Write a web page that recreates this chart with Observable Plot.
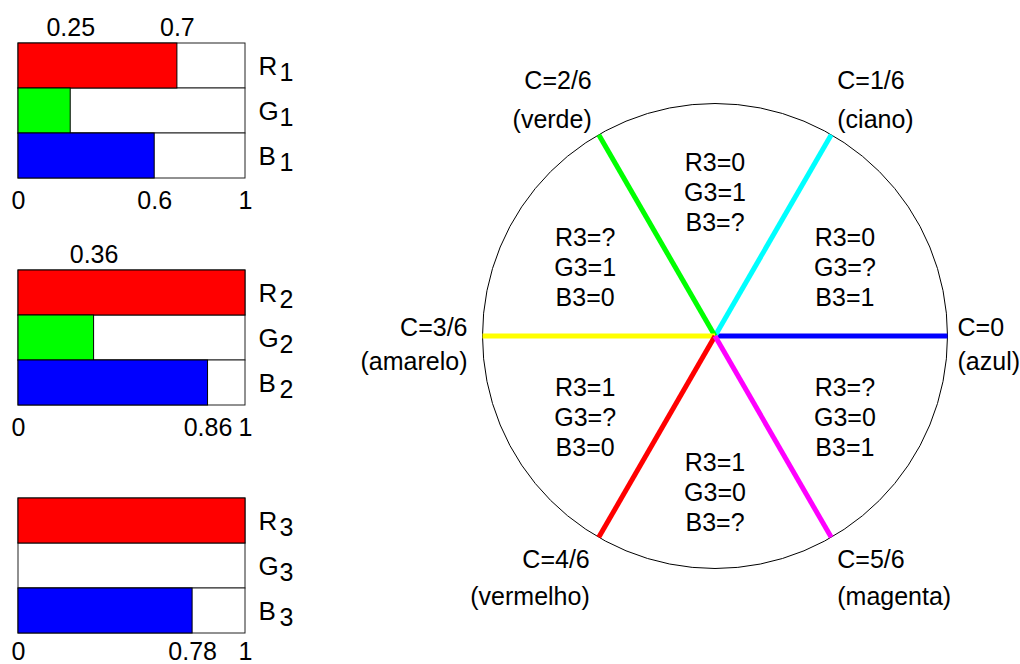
<!DOCTYPE html>
<html>
<head>
<meta charset="utf-8">
<script src="https://cdn.jsdelivr.net/npm/d3@7"></script>
<script src="https://cdn.jsdelivr.net/npm/@observablehq/plot@0.6"></script>
<style>
  body { margin: 0; background: #fff; }
  #chart { position: relative; width: 1020px; height: 664px; overflow: hidden; background: #fff; }
  #chart svg { position: absolute; overflow: visible; }
</style>
</head>
<body>
<div id="chart"></div>
<script>
// ---------- data ----------
const channels = ["R", "G", "B"];
// bar lengths as drawn in the picture
const values1 = [0.70, 0.23, 0.60];
const values2 = [1, 0.333, 0.835];
const values3 = [1, 0, 0.767];
// tick labels: [channel whose bar end carries the label, label text]
const topTicks1 = [["G", "0.25"], ["R", "0.7"]];
const topTicks2 = [["G", "0.36"]];
const topTicks3 = [];
const bottomTicks1 = [["0", "0"], ["B", "0.6"], ["1", "1"]];
const bottomTicks2 = [["0", "0"], ["B", "0.86"], ["1", "1"]];
const bottomTicks3 = [["0", "0"], ["B", "0.78"], ["1", "1"]];

const hueStops = [0, 1/6, 2/6, 3/6, 4/6, 5/6];
const hueLabels = ["C=0", "C=1/6", "C=2/6", "C=3/6", "C=4/6", "C=5/6"];
const hueNames = ["(azul)", "(ciano)", "(verde)", "(amarelo)", "(vermelho)", "(magenta)"];
// sectors between consecutive hue stops (centred at 1/12, 3/12, ...)
const sectorR3 = ["0", "0", "?", "1", "1", "?"];
const sectorG3 = ["?", "1", "1", "?", "0", "0"];
const sectorB3 = ["1", "?", "0", "0", "?", "1"];

// ---------- styles ----------
const FONT = '"Liberation Sans", Arial, Helvetica, sans-serif';
const FS = 25;
const channelColor = {R: "#ff0000", G: "#00ff00", B: "#0000ff"};
const hueColor = ["#0000ff", "#00ffff", "#00ff00", "#ffff00", "#ff0000", "#ff00ff"];

const chart = document.getElementById("chart");

function panel(index, values, topTicks, bottomTicks, top, bottomDy) {
  const rows = channels.map((c, i) => ({ch: c, v: values[i]}));
  const pos = k => k === "0" ? 0 : k === "1" ? 1 : values[channels.indexOf(k)];
  const svg = Plot.plot({
    width: 300, height: 227,
    marginLeft: 18, marginRight: 55, marginTop: 42, marginBottom: 49,
    x: {domain: [0, 1], axis: null},
    y: {type: "band", domain: channels, padding: 0, axis: null},
    style: {background: "transparent", fontFamily: FONT, overflow: "visible"},
    marks: [
      Plot.barX(rows, {x1: 0, x2: 1, y: "ch", fill: "white", stroke: "#222", strokeWidth: 1}),
      Plot.barX(rows.filter(d => d.v > 0), {x1: 0, x2: "v", y: "ch", fill: d => channelColor[d.ch], stroke: "black", strokeWidth: 1}),
      Plot.text(rows, {x: 1, y: "ch", text: "ch", textAnchor: "start", dx: 13, dy: 1, fontSize: FS + 1}),
      Plot.text(rows, {x: 1, y: "ch", text: () => String(index), textAnchor: "start", dx: 34, dy: 7, fontSize: FS}),
      Plot.text(topTicks, {x: d => pos(d[0]), text: d => d[1], frameAnchor: "top", lineAnchor: "middle", dy: -15, fontSize: FS}),
      Plot.text(bottomTicks, {x: d => pos(d[0]), text: d => d[1], frameAnchor: "bottom", lineAnchor: "middle", dy: bottomDy, fontSize: FS})
    ]
  });
  svg.style.left = "0px";
  svg.style.top = top + "px";
  chart.appendChild(svg);
}

panel(1, values1, topTicks1, bottomTicks1, 0, 22);
panel(2, values2, topTicks2, bottomTicks2, 227, 22);
panel(3, values3, topTicks3, bottomTicks3, 455, 18);

// ---------- hue circle ----------
const W = 680, H = 664, ML = 142, MR = 73, MT = 103, MB = 96;
const radiusPx = (W - ML - MR) / 2;
const spokes = hueStops.map((c, i) => ({
  c, label: hueLabels[i], name: hueNames[i], color: hueColor[i],
  cx: Math.cos(2 * Math.PI * c), cy: Math.sin(2 * Math.PI * c)
}));
const sectors = hueStops.map((c, i) => {
  const a = 2 * Math.PI * (c + 1/12);
  return {a, text: `R3=${sectorR3[i]}\nG3=${sectorG3[i]}\nB3=${sectorB3[i]}`};
});

function offsets(d) {
  const right = d.cx > 0;
  if (Math.abs(d.cy) < 0.01) return {anchor: right ? "start" : "end", dx: right ? 10 : -15, dy1: -8, dy2: 26};
  if (d.cy > 0) return {anchor: right ? "start" : "end", dx: right ? 6 : -7, dy1: -54, dy2: -15};
  return {anchor: right ? "start" : "end", dx: right ? 6 : -9, dy1: 23, dy2: 60};
}

const labelMarks = spokes.flatMap(d => {
  const o = offsets(d);
  return [
    Plot.text([d], {x: "cx", y: "cy", text: "label", textAnchor: o.anchor, dx: o.dx, dy: o.dy1, fontSize: FS}),
    Plot.text([d], {x: "cx", y: "cy", text: "name", textAnchor: o.anchor, dx: o.dx, dy: o.dy2, fontSize: FS})
  ];
});

const circle = Plot.plot({
  width: W, height: H,
  marginLeft: ML, marginRight: MR, marginTop: MT, marginBottom: MB,
  x: {domain: [-1, 1], axis: null},
  y: {domain: [-1, 1], axis: null},
  r: {type: "linear", domain: [0, 1], range: [0, radiusPx]},
  style: {background: "transparent", fontFamily: FONT, overflow: "visible"},
  marks: [
    Plot.dot([0], {x: 0, y: 0, r: () => 1, fill: "none", stroke: "black", strokeWidth: 1}),
    Plot.link(spokes, {x1: 0, y1: 0, x2: "cx", y2: "cy", stroke: "color", strokeWidth: 5}),
    Plot.text(sectors, {x: d => 0.645 * Math.cos(d.a), y: d => 0.645 * Math.sin(d.a), text: "text", lineHeight: 1.2, dy: 5, fontSize: FS}),
    ...labelMarks
  ]
});
circle.style.left = "340px";
circle.style.top = "0px";
chart.appendChild(circle);
</script>
</body>
</html>
